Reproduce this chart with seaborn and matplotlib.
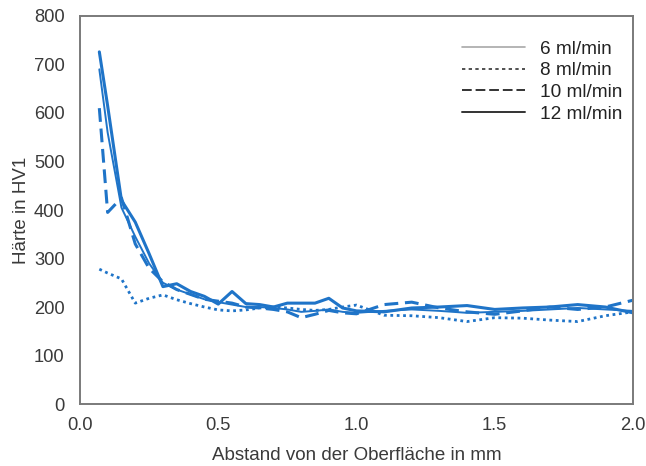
import numpy as np
import pandas as pd
import matplotlib
matplotlib.use("Agg")
import matplotlib.pyplot as plt
from matplotlib.lines import Line2D
import seaborn as sns

x_mm = [0.07, 0.10, 0.15, 0.20, 0.25, 0.30, 0.35, 0.40, 0.45, 0.50,
        0.55, 0.60, 0.65, 0.70, 0.75, 0.80, 0.85, 0.90, 0.95, 1.00,
        1.10, 1.20, 1.30, 1.40, 1.50, 1.60, 1.70, 1.80, 1.90, 2.00]

hv_6 = [690, 560, 405, 345, 290, 250, 236, 226, 216, 210,
        205, 200, 200, 198, 195, 190, 192, 195, 190, 188,
        192, 195, 192, 188, 190, 192, 195, 198, 195, 192]
hv_8 = [278, 270, 258, 208, 218, 225, 215, 207, 200, 194,
        192, 194, 198, 200, 198, 195, 193, 195, 200, 204,
        183, 182, 178, 170, 178, 177, 173, 170, 182, 190]
hv_10 = [610, 395, 425, 330, 280, 252, 236, 226, 216, 212,
         208, 200, 198, 195, 190, 178, 185, 193, 188, 186,
         205, 210, 198, 190, 185, 192, 200, 195, 200, 214]
hv_12 = [726, 615, 420, 375, 310, 242, 248, 232, 222, 206,
         232, 207, 205, 200, 208, 208, 208, 218, 198, 192,
         190, 198, 200, 203, 195, 198, 200, 205, 200, 188]

labels = ["6 ml/min", "8 ml/min", "10 ml/min", "12 ml/min"]
series = [hv_6, hv_8, hv_10, hv_12]

x_ticks = [0.0, 0.5, 1.0, 1.5, 2.0]
y_ticks = [0, 100, 200, 300, 400, 500, 600, 700, 800]

sns.set_theme(style="white")
plt.rcParams['font.family'] = ['Liberation Sans', 'DejaVu Sans']

blue = "#1f74c8"
styles = {
    "6 ml/min": dict(lw=1.4, dashes=None),
    "8 ml/min": dict(lw=2.0, dashes=(1, 1.3)),
    "10 ml/min": dict(lw=2.2, dashes=(4.5, 2.2)),
    "12 ml/min": dict(lw=2.2, dashes=None),
}

fig = plt.figure(figsize=(6.46, 4.66), dpi=100)
ax = fig.add_axes([0.1238, 0.133, 0.856, 0.8327])

for lab, vals in zip(labels, series):
    df = pd.DataFrame({"x": x_mm, "y": vals})
    st = styles[lab]
    sns.lineplot(data=df, x="x", y="y", ax=ax, color=blue,
                 linewidth=st["lw"], legend=False)
    ln = ax.get_lines()[-1]
    if st["dashes"] is not None:
        ln.set_dashes(st["dashes"])

ax.set_xlim(0, 2.0)
ax.set_ylim(0, 800)
ax.set_xticks(x_ticks)
ax.set_xticklabels([f"{t:.1f}" for t in x_ticks])
ax.set_yticks(y_ticks)
ax.set_yticklabels([str(t) for t in y_ticks])
ax.tick_params(axis="both", length=0, labelsize=13.2, colors="#3a3a3a")
ax.tick_params(axis="y", pad=11)
ax.tick_params(axis="x", pad=9)
for sp in ax.spines.values():
    sp.set_color("#7a7a7a")
    sp.set_linewidth(1.4)

ax.set_xlabel("Abstand von der Oberfläche in mm", fontsize=13.5, color="#3a3a3a", labelpad=10)
ax.set_ylabel("Härte in HV1", fontsize=13.5, color="#3a3a3a", labelpad=3)

handles = [
    Line2D([], [], color="#a8a8a8", lw=1.2, ls="-"),
    Line2D([], [], color="#333333", lw=1.2, dashes=(2, 2)),
    Line2D([], [], color="#333333", lw=1.4, dashes=(5, 2)),
    Line2D([], [], color="#333333", lw=1.4, ls="-"),
]
leg = ax.legend(handles, labels, loc="upper left", bbox_to_anchor=(0.677, 0.956),
                frameon=False, fontsize=13.7, handlelength=3.3, handletextpad=0.8,
                labelspacing=0.22, borderaxespad=0.0)
for t in leg.get_texts():
    t.set_color("#222222")

fig.savefig("out.png", dpi=100)
